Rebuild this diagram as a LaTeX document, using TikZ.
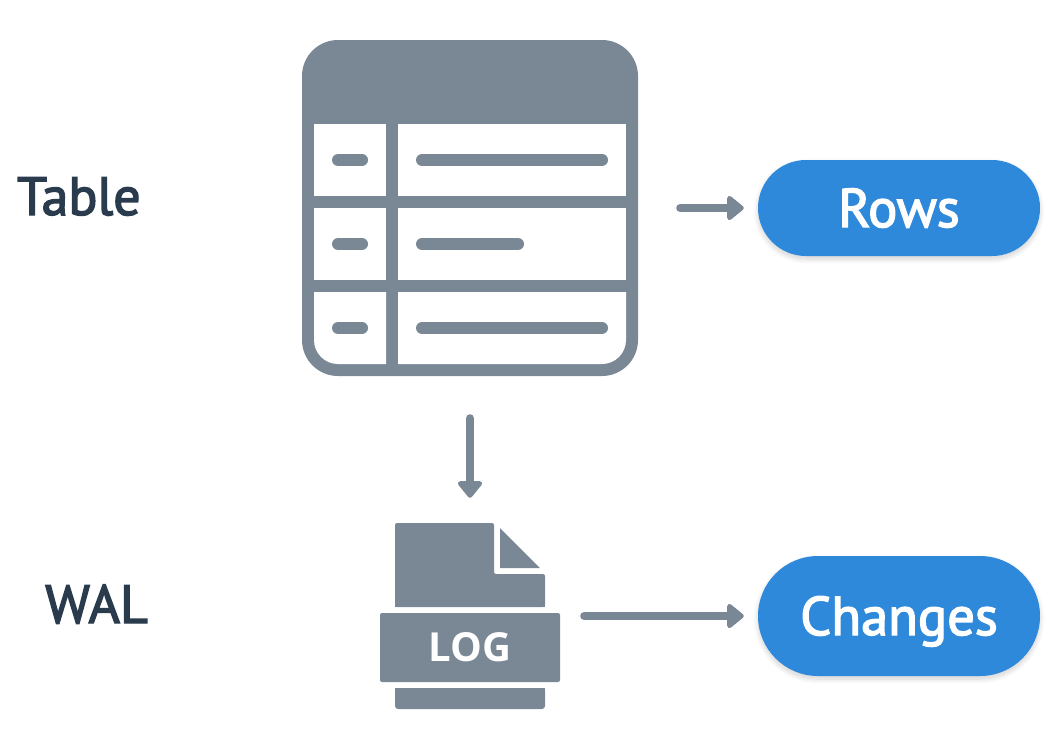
\documentclass[tikz,border=0pt]{standalone}
\usepackage{fontspec}
\setmainfont[RawFeature={embolden=2.6}]{PT Sans}
\newfontfamily\logfont{Open Sans}
\usetikzlibrary{arrows.meta, shadows.blur}
\definecolor{iconcol}{HTML}{7A8896}
\definecolor{pillcol}{HTML}{2E89DB}
\definecolor{labelcol}{HTML}{2A3B4D}
\tikzset{
  icon/.style={fill=iconcol, draw=none},
  cell/.style={fill=white, draw=none},
  holder/.style={inner sep=0pt, draw=none},
  flow/.style={draw=iconcol, line width=8pt, line cap=round, -{Triangle[length=18pt,width=28pt,round]}},
  pill/.style={fill=pillcol, text=white, rounded corners=#1, minimum width=282pt, inner sep=0pt,
    text height=38pt, text depth=0pt, font=\fontsize{54.5}{60}\selectfont,
    blur shadow={shadow xshift=0pt, shadow yshift=-3pt, shadow blur steps=8, shadow blur radius=5pt, shadow opacity=18}},
  sidelabel/.style={text=labelcol, inner sep=0pt, anchor=base west, font=\fontsize{54}{60}\selectfont}
}

\begin{document}
\begin{tikzpicture}[x=1pt,y=-1pt]
\useasboundingbox (0,0) rectangle (1056,728);

% table icon
\fill[icon, rounded corners=36pt] (302,40) rectangle (638,376);
\foreach \y in {124,208} {
  \fill[cell] (314,\y) rectangle (386,\y+72);
  \fill[cell] (398,\y) rectangle (626,\y+72);
}
\fill[cell] (386,292) -- (314,292) [rounded corners=24pt] -- (314,364) [sharp corners] -- (386,364) -- cycle;
\fill[cell] (398,292) -- (626,292) [rounded corners=24pt] -- (626,364) [sharp corners] -- (398,364) -- cycle;
\foreach \y/\w in {160/608,244/524,328/608} {
  \draw[iconcol, line width=12pt, line cap=round] (338,\y) -- (362,\y);
  \draw[iconcol, line width=12pt, line cap=round] (422,\y) -- (\w-6,\y);
}
\node[holder, minimum width=336pt, minimum height=336pt] (tbl) at (470,208) {};

% log icon
\fill[icon, rounded corners=2pt] (395,607) -- (395,523) -- (494,523) -- (494,574) -- (545,574) -- (545,607) -- cycle;
\fill[icon] (395,595) rectangle (545,607);
\fill[icon] (500,528) -- (540,568) -- (500,568) -- cycle;
\fill[icon, rounded corners=2pt] (380,613) rectangle (560,682);
\fill[icon, rounded corners=3pt] (395,688) rectangle (545,709);
\fill[icon] (395,688) rectangle (545,698);
\node[holder, minimum width=180pt, minimum height=186pt] (logfile) at (470,616) {};
\node[text=white, inner sep=0pt, font=\logfont\bfseries\fontsize{40}{44}\selectfont] (logtext) at (470,647) {LOG};

% labels
\node[sidelabel] (tablelabel) at (17,215) {Table};
\node[sidelabel] (wallabel) at (45,623) {WAL};

% pills
\node[pill=48pt, minimum height=96pt] (rows) at (899,208) {Rows};
\node[pill=60pt, minimum height=120pt] (changes) at (899,616) {Changes};

% arrows
\draw[flow, shorten <=42pt, shorten >=14pt] (tbl.east) -- (rows.west);
\draw[flow, shorten <=42pt, shorten >=25pt] (tbl.south) -- (logfile.north);
\draw[flow, shorten <=24pt, shorten >=14pt] (logfile.east) -- (changes.west);
\end{tikzpicture}
\end{document}
